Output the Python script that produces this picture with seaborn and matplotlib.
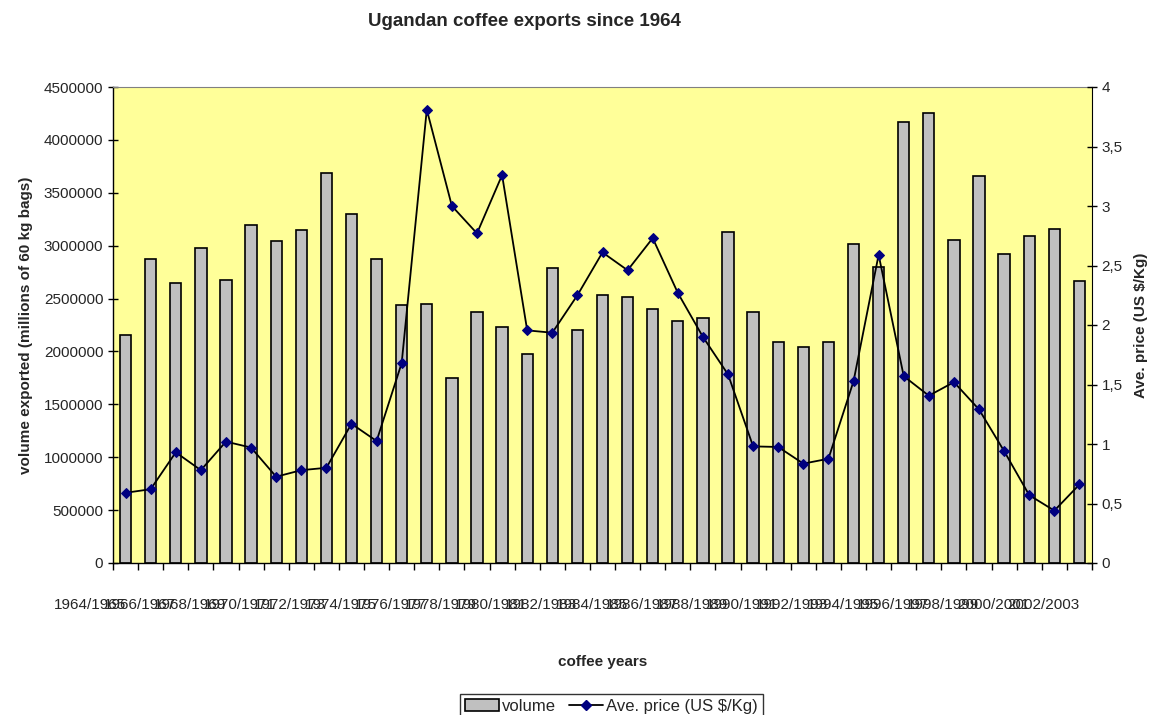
import numpy as np
import pandas as pd
import matplotlib
matplotlib.use('Agg')
import matplotlib.pyplot as plt
import matplotlib.transforms as mtransforms
from matplotlib.ticker import FuncFormatter, MultipleLocator
from matplotlib.patches import Patch
from matplotlib.lines import Line2D
import seaborn as sns

# coffee years 1964/1965 ... 2002/2003
years = [f'{y}/{y + 1}' for y in range(1964, 2003)]

# volume exported (60 kg bags)
volume = [2160000, 2870000, 2650000, 2980000, 2680000, 3200000, 3040000, 3150000,
          3690000, 3300000, 2870000, 2440000, 2450000, 1750000, 2370000, 2230000,
          1980000, 2790000, 2200000, 2530000, 2510000, 2400000, 2290000, 2320000,
          3130000, 2370000, 2090000, 2040000, 2090000, 3020000, 2800000, 4170000,
          4250000, 3050000, 3660000, 2920000, 3090000, 3160000, 2670000]

# average price (US $/Kg)
price = [0.59, 0.62, 0.93, 0.78, 1.02, 0.97, 0.725, 0.78, 0.80, 1.17, 1.025,
         1.68, 3.81, 3.00, 2.77, 3.26, 1.955, 1.935, 2.25, 2.61, 2.46, 2.73,
         2.27, 1.90, 1.585, 0.98, 0.975, 0.835, 0.876, 1.527, 2.59, 1.57,
         1.406, 1.52, 1.29, 0.94, 0.57, 0.44, 0.66]

df = pd.DataFrame({'year': years, 'volume': volume, 'price': price})
df['pos'] = np.arange(len(df))

sns.set_style('white')
plt.rcParams['font.family'] = ['Liberation Sans', 'DejaVu Sans']

fig, ax = plt.subplots(figsize=(11.52, 7.15), dpi=100)
fig.subplots_adjust(left=113 / 1152, right=1092 / 1152, top=1 - 87 / 715, bottom=1 - 563 / 715)
ax.set_facecolor('#FFFF99')

sns.barplot(data=df, x='year', y='volume', color='#C0C0C0', saturation=1,
            edgecolor='black', linewidth=1.2, width=0.45, ax=ax)

ax2 = ax.twinx()
sns.lineplot(data=df, x='pos', y='price', color='black', linewidth=1.3,
             marker='D', markersize=5, markerfacecolor='#000080',
             markeredgecolor='#000080', ax=ax2)

# every other coffee year is labelled
label_idx = np.arange(0, len(df), 2)
ax.set_xticks(label_idx)
ax.set_xticklabels([years[i] for i in label_idx], fontsize=11)
ax.set_xticks(np.arange(-0.5, len(df), 1), minor=True)
ax.set_xlim(-0.5, len(df) - 0.5)

ax.set_ylim(0, 4500000)
ax.yaxis.set_major_locator(MultipleLocator(500000))
ax.yaxis.set_major_formatter(FuncFormatter(lambda v, p: f'{int(v)}'))
ax2.set_ylim(0, 4)
ax2.yaxis.set_major_locator(MultipleLocator(0.5))
ax2.yaxis.set_major_formatter(FuncFormatter(lambda v, p: f'{v:g}'.replace('.', ',')))

ax.tick_params(axis='x', which='major', length=0, pad=25)
ax.tick_params(axis='x', which='minor', direction='out', length=5, width=1, bottom=True, color='black')
ax.tick_params(axis='y', direction='inout', length=7, width=1, left=True, labelsize=11, color='black')
ax2.tick_params(axis='y', direction='inout', length=7, width=1, right=True, labelsize=11, color='black')

# the labels sit left of their bar and overlap, as in the original
shift = mtransforms.ScaledTranslation(-0.36, 0, fig.dpi_scale_trans)
for lab in ax.get_xticklabels():
    lab.set_transform(lab.get_transform() + shift)

ax.set_xlabel('coffee years', fontsize=11, fontweight='bold', labelpad=31)
ax.set_ylabel('volume exported (millions of 60 kg bags)', fontsize=11, fontweight='bold', labelpad=8)
ax2.set_ylabel('Ave. price (US $/Kg)', fontsize=11, fontweight='bold', labelpad=8)

for s in ['left', 'bottom']:
    ax.spines[s].set_color('black')
    ax.spines[s].set_linewidth(1)
ax.spines['top'].set_color('#808080')
ax.spines['right'].set_visible(False)
for s in ['left', 'top', 'bottom']:
    ax2.spines[s].set_visible(False)
ax2.spines['right'].set_color('black')

fig.suptitle('Ugandan coffee exports since 1964', x=524 / 1152, y=1 - 22 / 715,
             va='center', fontsize=13.5, fontweight='bold')

handles = [Patch(facecolor='#C0C0C0', edgecolor='black', linewidth=1.2),
           Line2D([], [], color='black', linewidth=1.3, marker='D', markersize=5,
                  markerfacecolor='#000080', markeredgecolor='#000080')]
leg = fig.legend(handles, ['volume', 'Ave. price (US $/Kg)'], loc='upper center',
                 bbox_to_anchor=(611.5 / 1152, 1 - 694 / 715), ncol=2, fontsize=12,
                 frameon=True, fancybox=False, edgecolor='black', borderpad=0.3,
                 handlelength=2.0, handletextpad=0.2, columnspacing=0.8, borderaxespad=0)
leg.get_frame().set_linewidth(1)

fig.savefig('out.png', dpi=100)
